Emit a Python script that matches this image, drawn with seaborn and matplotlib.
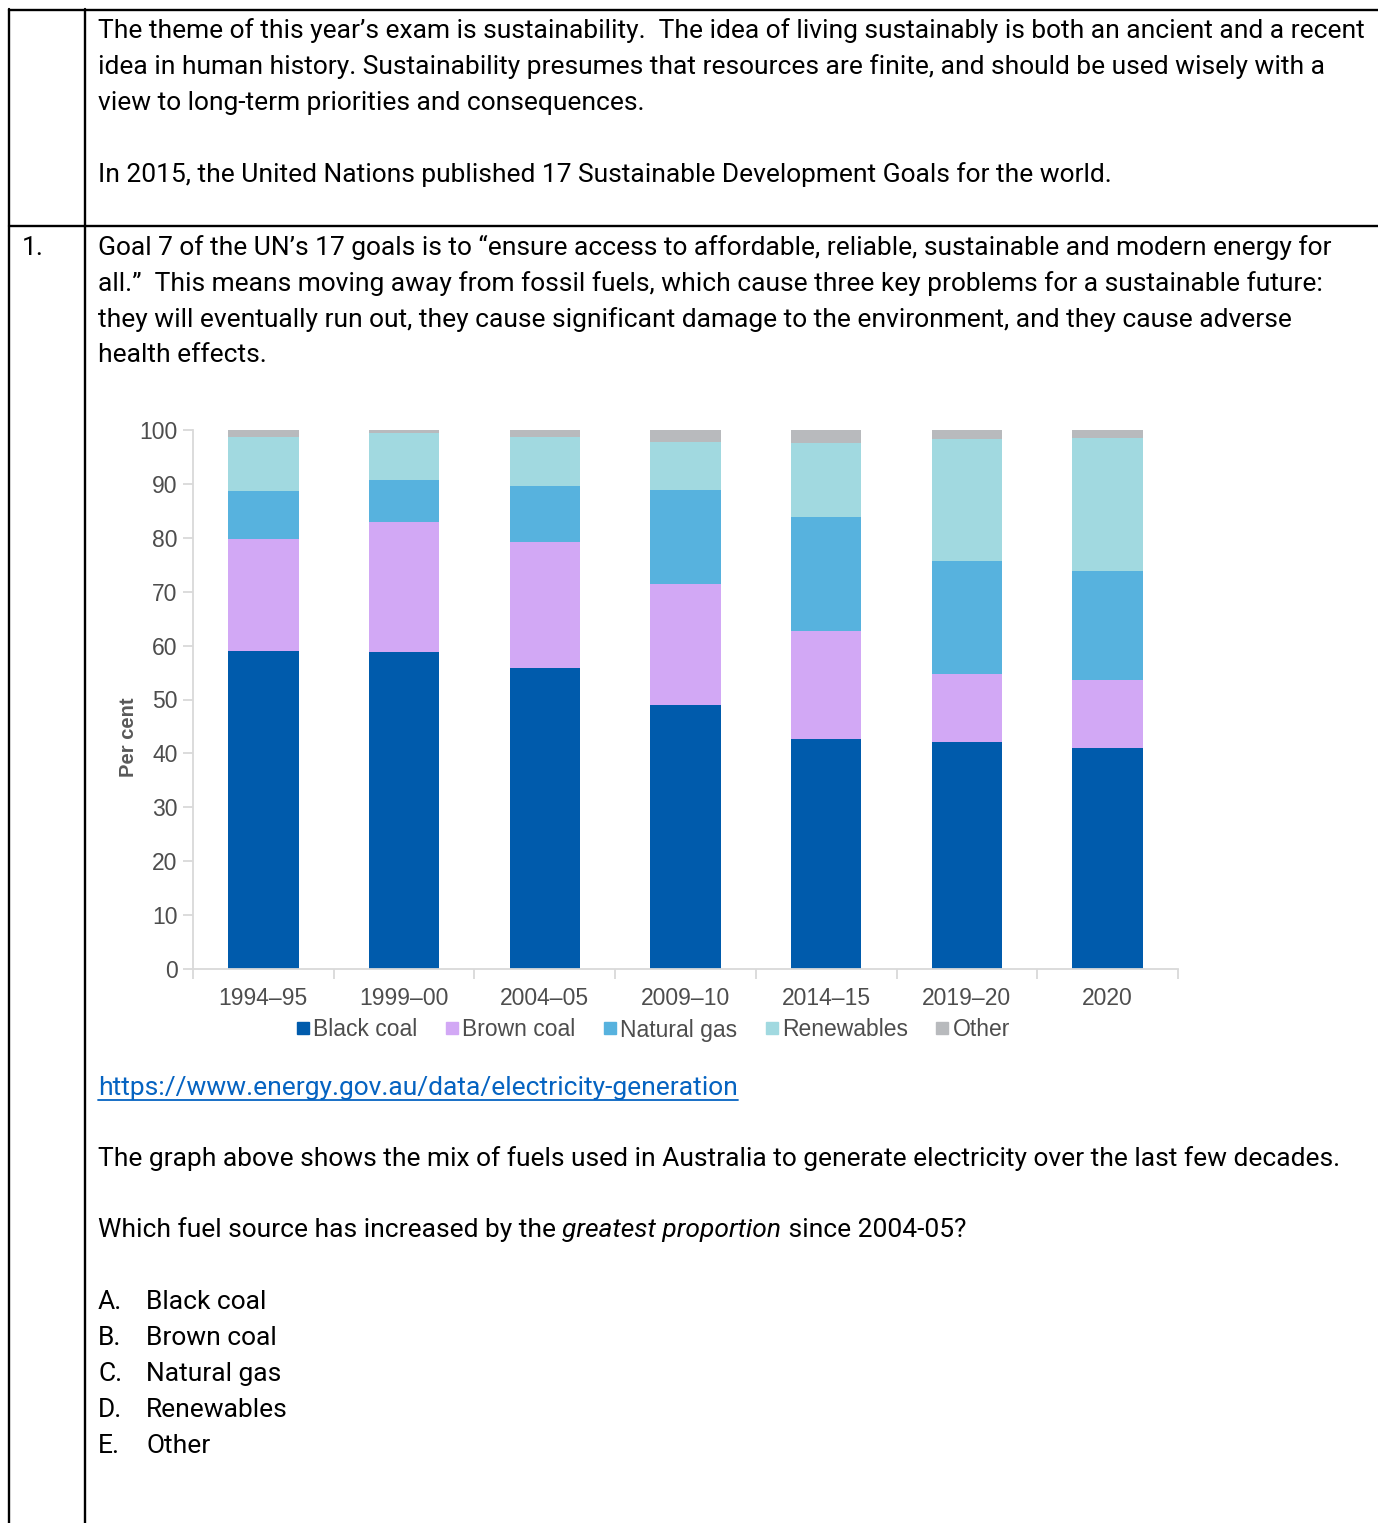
import numpy as np
import pandas as pd
import seaborn as sns
import matplotlib.pyplot as plt
from matplotlib import font_manager
from matplotlib.lines import Line2D

# chart data
years = ['1994–95', '1999–00', '2004–05', '2009–10', '2014–15', '2019–20', '2020']
black_coal = [59.0, 58.8, 55.8, 49.0, 42.7, 42.1, 41.0]
brown_coal = [20.8, 24.1, 23.4, 22.4, 20.0, 12.6, 12.6]
natural_gas = [8.9, 7.8, 10.4, 17.5, 21.2, 21.0, 20.2]
renewables = [10.0, 8.8, 9.1, 8.9, 13.7, 22.6, 24.7]
other = [1.3, 0.5, 1.3, 2.2, 2.4, 1.7, 1.5]

fuels = ['Black coal', 'Brown coal', 'Natural gas', 'Renewables', 'Other']
colors = ['#005BAC', '#D2A8F5', '#57B2DE', '#A1D9E0', '#B8BABD']

options = ['Black coal', 'Brown coal', 'Natural gas', 'Renewables', 'Other']
letters = ['A.', 'B.', 'C.', 'D.', 'E.']

W, H = 1378, 1523

sns.set_style('white')
installed = {f.name for f in font_manager.fontManager.ttflist}
if 'Liberation Sans Narrow' in installed:
    doc_font, doc_size = 'Liberation Sans Narrow', 21.5
else:
    doc_font, doc_size = 'Roboto', 19.0
plt.rcParams['font.family'] = ['Liberation Sans', 'DejaVu Sans']
chart_grey = '#4D4D4D'


def fx(x):
    return x / W


def fy(y):
    return 1 - y / H


df = pd.DataFrame({'year': years, 'Black coal': black_coal, 'Brown coal': brown_coal,
                   'Natural gas': natural_gas, 'Renewables': renewables, 'Other': other})

fig = plt.figure(figsize=(W / 100, H / 100), dpi=100)
ax = fig.add_axes([fx(193), fy(969), fx(1178) - fx(193), fy(430) - fy(969)])

bottom = np.zeros(len(years))
for fuel, c in zip(fuels, colors):
    sns.barplot(data=df, x='year', y=fuel, color=c, saturation=1, width=0.5,
                bottom=bottom.copy(), errorbar=None, linewidth=0, ax=ax)
    bottom += df[fuel].values

ax.set_xlim(-0.5, len(years) - 0.5)
ax.set_ylim(0, 100)
ax.set_yticks(range(0, 101, 10))
ax.set_xlabel('')
ax.set_ylabel('Per cent', fontsize=14.5, color='#595959', fontweight='semibold')
ax.yaxis.set_label_coords(-0.056, 0.43)
sns.despine(ax=ax)
for s in ['left', 'bottom']:
    ax.spines[s].set_color('#D9D9D9')
    ax.spines[s].set_linewidth(1.3)
ax.tick_params(axis='y', length=7, width=1.3, color='#D9D9D9', labelsize=16.5,
               labelcolor=chart_grey, pad=4, left=True)
ax.tick_params(axis='x', which='major', length=0, pad=13, labelsize=16.5, labelcolor=chart_grey)
ax.set_xticks(np.arange(-0.5, len(years), 1), minor=True)
ax.tick_params(axis='x', which='minor', length=7, width=1.3, color='#D9D9D9', bottom=True)

handles = [Line2D([], [], marker='s', linestyle='', color=c, markersize=8) for c in colors]
fig.legend(handles, fuels, loc='center', bbox_to_anchor=(fx(652), fy(1030)), ncol=5,
           frameon=False, fontsize=16.5, labelcolor=chart_grey, handletextpad=0.05,
           columnspacing=1.1, handlelength=0.8)

# document table rules
for y in [10, 226]:
    fig.add_artist(Line2D([fx(9), 1], [fy(y), fy(y)], color='black', lw=1.7))
for x in [9, 85]:
    fig.add_artist(Line2D([fx(x), fx(x)], [fy(9), 0], color='black', lw=1.7))

tk = dict(fontsize=doc_size, family=doc_font, color='black', va='baseline', ha='left')
intro = [
    (38, 'The theme of this year’s exam is sustainability.  The idea of living sustainably is both an ancient and a recent'),
    (74, 'idea in human history. Sustainability presumes that resources are finite, and should be used wisely with a'),
    (110, 'view to long-term priorities and consequences.'),
    (182, 'In 2015, the United Nations published 17 Sustainable Development Goals for the world.'),
    (255, 'Goal 7 of the UN’s 17 goals is to “ensure access to affordable, reliable, sustainable and modern energy for'),
    (291, 'all.”  This means moving away from fossil fuels, which cause three key problems for a sustainable future:'),
    (327, 'they will eventually run out, they cause significant damage to the environment, and they cause adverse'),
    (362, 'health effects.'),
    (1166, 'The graph above shows the mix of fuels used in Australia to generate electricity over the last few decades.'),
]
for y, s in intro:
    fig.text(fx(98), fy(y), s, **tk)
fig.text(fx(22), fy(255), '1.', **tk)

link = fig.text(fx(98), fy(1095), 'https://www.energy.gov.au/data/electricity-generation',
                **{**tk, 'color': '#0563C1'})

q1 = fig.text(fx(98), fy(1237), 'Which fuel source has increased by the ', **tk)
q2 = fig.text(0, 0, 'greatest proportion', **{**tk, 'fontstyle': 'italic'})
q3 = fig.text(0, 0, ' since 2004-05?', **tk)

for i, (lt, opt) in enumerate(zip(letters, options)):
    y = 1309 + 36 * i
    fig.text(fx(98), fy(y), lt, **tk)
    fig.text(fx(146), fy(y), opt, **tk)

# place the inline pieces and link underline from measured extents
fig.canvas.draw()
r = fig.canvas.get_renderer()
bb1 = q1.get_window_extent(r)
q2.set_position((bb1.x1 / W, fy(1237)))
bb2 = q2.get_window_extent(r)
q3.set_position((bb2.x1 / W, fy(1237)))
bl = link.get_window_extent(r)
fig.add_artist(Line2D([bl.x0 / W, bl.x1 / W], [fy(1100), fy(1100)], color='#0563C1', lw=1.3))

fig.savefig('out.png', dpi=100, facecolor='white')
